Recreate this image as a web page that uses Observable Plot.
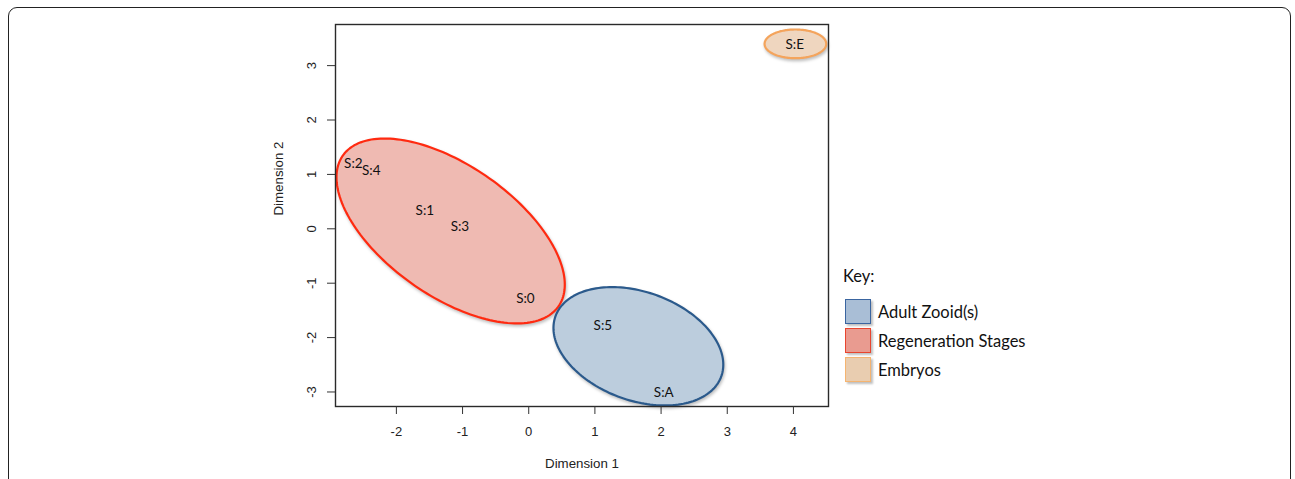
<!DOCTYPE html>
<html>
<head>
<meta charset="utf-8">
<script src="https://cdn.jsdelivr.net/npm/d3@7"></script>
<script src="https://cdn.jsdelivr.net/npm/@observablehq/plot@0.6"></script>
<style>
  html, body { margin: 0; padding: 0; background: #fff; }
  #wrap { position: relative; width: 1295px; height: 479px; overflow: hidden; }
  #frame { position: absolute; left: 8px; top: 7px; width: 1283px; height: 520px;
           border: 1.6px solid #222; border-radius: 9px; box-sizing: border-box; }
  #chart { position: absolute; left: 0; top: 0; }
  #cut { position: absolute; left: 11px; top: 469px; width: 1278px; height: 12px; background: #fff; }
  .key { position: absolute; font-family: Lato, "Open Sans", sans-serif; color: #111; }
  .sw { position: absolute; width: 26px; height: 25px; box-sizing: border-box; border: 1.5px solid;
        box-shadow: 1.5px 2px 2px rgba(0,0,0,0.25); }
  .lt { position: absolute; font-family: Lato, "Open Sans", sans-serif; font-size: 16.5px; color: #111;
        line-height: 20px; white-space: nowrap; }
</style>
</head>
<body>
<div id="wrap">
  <div id="frame"></div>
  <div id="chart"></div>
  <div id="cut"></div>
  <div id="legend"></div>
</div>
<script>
// ---- data ----
const labels = ["S:2", "S:4", "S:1", "S:3", "S:0", "S:5", "S:A", "S:E"];
const dim1   = [-2.65, -2.38, -1.57, -1.04, -0.05, 1.12, 2.04, 4.02];
const dim2   = [ 1.20,  1.06,  0.34,  0.04, -1.28, -1.78, -3.01, 3.39];

// group ellipses (centre, half-width, half-height, correlation)
const groups     = ["Regeneration Stages", "Adult Zooid(s)", "Embryos"];
const ellCx      = [-1.18, 1.657, 4.03];
const ellCy      = [-0.04, -2.16, 3.40];
const ellRx      = [1.725, 1.283, 0.466];
const ellRy      = [1.70, 1.088, 0.264];
const ellCorr    = [-0.58, -0.31, 0.0];
const ellFill    = ["#efbab2", "#bccddd", "#efd6bf"];
const ellStroke  = ["#ff2a10", "#2b5a8c", "#f4a45c"];

const legendNames  = ["Adult Zooid(s)", "Regeneration Stages", "Embryos"];
const legendFill   = ["#a9bed6", "#e99b90", "#e9cdb0"];
const legendStroke = ["#3a65a0", "#e8452f", "#f5b470"];

const xTicks = [-2, -1, 0, 1, 2, 3, 4];
const yTicks = [-3, -2, -1, 0, 1, 2, 3];

// ---- build ellipse outlines from parameters ----
function ellipse(i) {
  const phi = Math.acos(ellCorr[i]);
  const pts = [];
  for (let k = 0; k < 180; k++) {
    const t = (k / 180) * 2 * Math.PI;
    pts.push({x: ellCx[i] + ellRx[i] * Math.cos(t), y: ellCy[i] + ellRy[i] * Math.cos(t - phi), g: groups[i]});
  }
  return pts;
}
const ellMarks = groups.map((g, i) =>
  Plot.line(ellipse(i), {x: "x", y: "y", curve: "linear-closed",
    fill: ellFill[i], stroke: ellStroke[i], strokeWidth: 2.2}));

const points = labels.map((l, i) => ({label: l, x: dim1[i], y: dim2[i]}));

const chart = Plot.plot({
  width: 1295, height: 479,
  marginLeft: 335, marginRight: 467, marginTop: 24, marginBottom: 73,
  x: {domain: [-2.92, 4.53]},
  y: {domain: [-3.267, 3.756]},
  style: {fontFamily: "'Liberation Sans', Arial, sans-serif", fontSize: "13px", color: "#222", background: "transparent"},
  marks: [
    ...ellMarks,
    Plot.frame({stroke: "#2a2a2a", strokeWidth: 1.4}),
    Plot.axisX({ticks: xTicks, tickSize: 8, tickPadding: 12, tickFormat: d => String(d), label: null, stroke: "#333"}),
    Plot.axisY({ticks: yTicks, tickSize: 8, tickPadding: 12, tickRotate: -90, tickFormat: d => String(d), label: null, stroke: "#333"}),
    Plot.text(points, {x: "x", y: "y", text: "label", fontFamily: "Lato, 'Open Sans', sans-serif", fontSize: 13.5, fill: "#111"}),
    Plot.text(["Dimension 1"], {frameAnchor: "bottom", dy: 61, text: d => d, fontSize: 13.3, fill: "#222"}),
    Plot.text(["Dimension 2"], {frameAnchor: "left", dx: -57, text: d => d, rotate: -90, fontSize: 13.3, fill: "#222"})
  ]
});
document.getElementById("chart").appendChild(chart);

// subtle shadow under ellipses
chart.querySelectorAll('g[aria-label="line"]').forEach(g => {
  g.style.filter = "drop-shadow(1px 2px 1.5px rgba(0,0,0,0.25))";
});

// ---- legend (HTML) ----
const leg = document.getElementById("legend");
const key = document.createElement("div");
key.className = "key";
key.style.left = "843px"; key.style.top = "266px"; key.style.fontSize = "16.5px";
key.textContent = "Key:";
leg.appendChild(key);
const tops = [299, 328, 357];
legendNames.forEach((n, i) => {
  const sw = document.createElement("div");
  sw.className = "sw";
  sw.style.left = "845px"; sw.style.top = tops[i] + "px";
  sw.style.background = legendFill[i]; sw.style.borderColor = legendStroke[i];
  leg.appendChild(sw);
  const t = document.createElement("div");
  t.className = "lt";
  t.style.left = "878px"; t.style.top = (tops[i] + 3) + "px";
  t.textContent = n;
  leg.appendChild(t);
});
</script>
</body>
</html>
